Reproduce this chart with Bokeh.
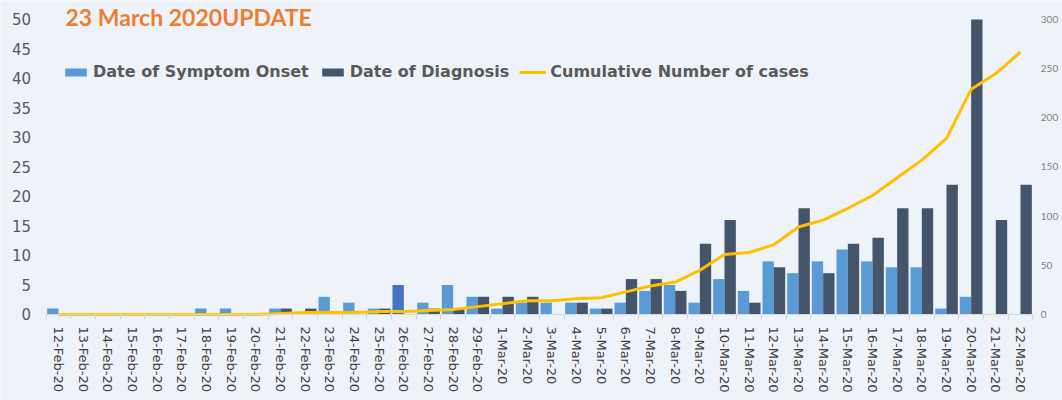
from bokeh.plotting import figure
from bokeh.models import (Range1d, LinearAxis, FixedTicker, ColumnDataSource,
                          Legend, LegendItem, Label)
from bokeh.transform import dodge
from bokeh.embed import file_html
from bokeh.resources import INLINE

# ---------------- data ----------------
dates = ["12-Feb-20", "13-Feb-20", "14-Feb-20", "15-Feb-20", "16-Feb-20", "17-Feb-20",
         "18-Feb-20", "19-Feb-20", "20-Feb-20", "21-Feb-20", "22-Feb-20", "23-Feb-20",
         "24-Feb-20", "25-Feb-20", "26-Feb-20", "27-Feb-20", "28-Feb-20", "29-Feb-20",
         "1-Mar-20", "2-Mar-20", "3-Mar-20", "4-Mar-20", "5-Mar-20", "6-Mar-20",
         "7-Mar-20", "8-Mar-20", "9-Mar-20", "10-Mar-20", "11-Mar-20", "12-Mar-20",
         "13-Mar-20", "14-Mar-20", "15-Mar-20", "16-Mar-20", "17-Mar-20", "18-Mar-20",
         "19-Mar-20", "20-Mar-20", "21-Mar-20", "22-Mar-20"]

symptom_onset = [1, 0, 0, 0, 0, 0, 1, 1, 0, 1, 0, 3, 2, 1, 5, 2, 5, 3,
                 1, 2, 2, 2, 1, 2, 4, 5, 2, 6, 4, 9, 7, 9, 11, 9, 8, 8, 1, 3, 0, 0]

diagnosis = [0, 0, 0, 0, 0, 0, 0, 0, 0, 1, 1, 0, 0, 1, 0, 1, 1, 3,
             3, 3, 0, 2, 1, 6, 6, 4, 12, 16, 2, 8, 18, 7, 12, 13, 18, 18, 22, 50, 16, 22]

cumulative = [0, 0, 0, 0, 0, 0, 0, 0, 0, 1, 2, 2, 2, 3, 3, 4, 5, 8,
              11, 14, 14, 16, 17, 23, 29, 33, 45, 61, 63, 71, 89, 96, 108, 121,
              139, 157, 179, 229, 245, 267]

left_ticks = [0, 5, 10, 15, 20, 25, 30, 35, 40, 45, 50]
right_ticks = [0, 50, 100, 150, 200, 250, 300]

title_text = "23 March  2020UPDATE"
series_names = ["Date of Symptom Onset", "Date of Diagnosis", "Cumulative Number of cases"]

# ---------------- styling ----------------
BG = "#EEF3FA"
C_ONSET = "#5B9BD5"
C_ONSET_HI = "#4472C4"
C_DIAG = "#44546A"
C_CUM = "#FFC000"

onset_colors = [C_ONSET] * len(dates)
onset_colors[dates.index("26-Feb-20")] = C_ONSET_HI

idx = list(range(len(dates)))
src = ColumnDataSource(dict(idx=idx, onset=symptom_onset, diag=diagnosis,
                            cum=cumulative, ocol=onset_colors))

W, H = 1062, 400
# plot window: category axis from -0.5 .. n-0.5, value axis 0 .. 50 (left), 0 .. 300 (right)
cat_lo, cat_hi = -0.5, len(dates) - 0.5
x_lo, x_hi = -2.351, 40.703          # extra room on both sides for the value axes
y_lo, y_hi = -14.58, 53.22           # extra room below for the date labels
p = figure(width=W, height=H, output_backend="svg", toolbar_location=None,
           x_range=Range1d(x_lo, x_hi), y_range=Range1d(y_lo, y_hi),
           min_border_left=0, min_border_right=0, min_border_top=0,
           min_border_bottom=0)
p.extra_y_ranges = {"right": Range1d(y_lo * 6, y_hi * 6)}

p.background_fill_color = BG
p.border_fill_color = BG
p.outline_line_color = None
p.xgrid.visible = False
p.ygrid.visible = False

r_on = p.vbar(x=dodge("idx", -0.23, range=p.x_range), top="onset", width=0.46,
              fill_color="ocol", line_color=None, source=src)
r_dg = p.vbar(x=dodge("idx", 0.23, range=p.x_range), top="diag", width=0.46,
              fill_color=C_DIAG, line_color=None, source=src)
r_cm = p.line(x="idx", y="cum", y_range_name="right", line_width=3,
              line_color=C_CUM, source=src)

# x axis (date categories)
xa = p.xaxis[0]
xa.fixed_location = 0
xa.bounds = (cat_lo, cat_hi)
xa.ticker = FixedTicker(ticks=idx, minor_ticks=[i - 0.5 for i in range(len(dates) + 1)])
xa.major_label_overrides = {i: d for i, d in enumerate(dates)}
xa.major_label_orientation = "vertical"
xa.major_label_text_font = "DejaVu Sans"
xa.major_label_text_font_size = "13px"
xa.major_label_text_color = "#404040"
xa.major_label_standoff = 7
xa.major_tick_line_color = None
xa.major_tick_out = 0
xa.major_tick_in = 0
xa.minor_tick_line_color = "#D0D4DA"
xa.minor_tick_out = 5
xa.minor_tick_in = 0
xa.axis_line_color = "#D9D9D9"

# left axis
ya = p.yaxis[0]
ya.fixed_location = cat_lo
ya.ticker = FixedTicker(ticks=left_ticks)
ya.axis_line_color = None
ya.major_tick_line_color = None
ya.minor_tick_line_color = None
ya.major_label_text_font = "DejaVu Sans"
ya.major_label_text_font_size = "15px"
ya.major_label_text_color = "#595959"
ya.major_label_standoff = 9

# right axis
ra = LinearAxis(y_range_name="right", ticker=FixedTicker(ticks=right_ticks))
ra.fixed_location = cat_hi
ra.axis_line_color = None
ra.major_tick_line_color = None
ra.minor_tick_line_color = None
ra.major_label_text_font = "Lato"
ra.major_label_text_font_size = "10px"
ra.major_label_text_color = "#7F7F7F"
ra.major_label_standoff = 2
p.add_layout(ra, "right")

# legend
legend = Legend(items=[LegendItem(label=series_names[0], renderers=[r_on], index=0),
                       LegendItem(label=series_names[1], renderers=[r_dg]),
                       LegendItem(label=series_names[2], renderers=[r_cm])],
                orientation="horizontal", location=(62, 319), padding=0, margin=0,
                spacing=10, label_standoff=4, glyph_width=27, glyph_height=10,
                label_text_font="DejaVu Sans", label_text_font_style="bold",
                label_text_font_size="16px", label_text_color="#595959",
                border_line_alpha=0, background_fill_alpha=0)
p.add_layout(legend)

# title
p.add_layout(Label(x=65, y=398, x_units="screen", y_units="screen", text=title_text,
                   text_font="Lato", text_font_style="bold", text_font_size="23px",
                   text_color="#ED7D31", text_baseline="top"))

open("out.html", "w").write(file_html(p, INLINE))
